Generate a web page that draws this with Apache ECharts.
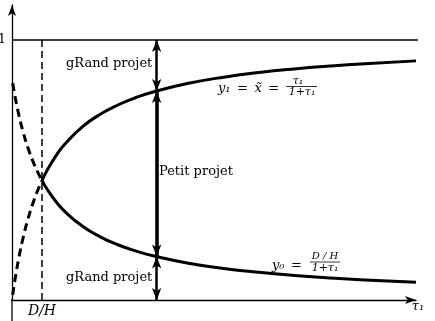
<!DOCTYPE html>
<html>
<head>
<meta charset="utf-8">
<script src="https://cdn.jsdelivr.net/npm/echarts@6/dist/echarts.min.js"></script>
<style>
  html, body { margin: 0; padding: 0; background: #fff; }
  #chart { width: 435px; height: 321px; }
</style>
</head>
<body>
<div id="chart"></div>
<script>
// Threshold D/H on the τ1 axis
const dOverH = 0.85;

// Right branch (τ1 ≥ D/H): solid curves
const tauRight = [0.85, 1, 1.25, 1.5, 2, 2.5, 3, 3.5, 4, 5, 6, 7, 8, 9, 10, 11.45];
const y1Right  = [0.4595, 0.5, 0.5556, 0.6, 0.6667, 0.7143, 0.75, 0.7778, 0.8, 0.8333, 0.8571, 0.875, 0.8889, 0.9, 0.9091, 0.9197];
const y0Right  = [0.4595, 0.425, 0.3778, 0.34, 0.2833, 0.2429, 0.2125, 0.1889, 0.17, 0.1417, 0.1214, 0.1063, 0.0944, 0.085, 0.0773, 0.0683];

// Left branch (τ1 < D/H): dashed curves
const tauLeft = [0.02, 0.1, 0.2, 0.3, 0.45, 0.6, 0.75, 0.85];
const y1Left  = [0.0196, 0.0909, 0.1667, 0.2308, 0.3103, 0.375, 0.4286, 0.4595];
const y0Left  = [0.8333, 0.7727, 0.7083, 0.6538, 0.5862, 0.5313, 0.4857, 0.4595];

// Upper bound level and the double arrows at one τ1
const upperLevel = 1;
const arrowTau = 4.1;
const arrowY1 = 0.804;
const arrowY0 = 0.167;

// Tick labels
const yTickValues = [1];
const yTickLabels = ['1'];
const xTickValues = [dOverH];
const xTickLabels = ['D/H'];

// Axis extents (axes cross slightly past the origin)
const xMin = 0, xMax = 11.45, xOvershoot = -0.34;
const yMin = 0, yMax = 1.1346, yOvershoot = -0.0808;

const pairs = (xs, ys) => xs.map((x, i) => [x, ys[i]]);

const serif = '"DejaVu Serif", "Liberation Serif", serif';
const mathFont = '"DejaVu Serif", "Liberation Serif", serif';

const chart = echarts.init(document.getElementById('chart'));

const arrowStyle = (w) => ({ color: '#000', width: w, type: 'solid' });
const thinLine = { color: '#000', width: 1.3 };

chart.setOption({
  animation: false,
  backgroundColor: '#fff',
  grid: { left: 12, right: 19, top: 5, bottom: 21, containLabel: false, outerBoundsMode: 'none' },
  xAxis: {
    type: 'value',
    min: xMin,
    max: xMax,
    name: 'τ₁',
    nameLocation: 'end',
    nameGap: 2,
    nameTextStyle: { fontFamily: mathFont, fontStyle: 'italic', fontSize: 13, color: '#000', align: 'center', verticalAlign: 'top' },
    axisLine: { onZero: false, lineStyle: thinLine, symbol: ['none', 'arrow'], symbolSize: [6, 11] },
    axisTick: { show: false },
    splitLine: { show: false },
    axisLabel: {
      customValues: xTickValues,
      formatter: (v) => xTickLabels[xTickValues.indexOf(v)] || '',
      fontFamily: mathFont, fontStyle: 'italic', fontSize: 14, color: '#000', margin: 4
    }
  },
  yAxis: {
    type: 'value',
    min: yMin,
    max: yMax,
    axisLine: { onZero: false, lineStyle: thinLine, symbol: ['none', 'arrow'], symbolSize: [6, 11] },
    axisTick: { show: false },
    splitLine: { show: false },
    axisLabel: {
      customValues: yTickValues,
      formatter: (v) => yTickLabels[yTickValues.indexOf(v)] || '',
      fontFamily: serif, fontSize: 13, color: '#000', margin: 6
    }
  },
  series: [
    {
      name: 'x axis tail', type: 'line', clip: false, symbol: 'none', silent: true,
      data: [[xOvershoot, 0], [0, 0]], lineStyle: thinLine
    },
    {
      name: 'y axis tail', type: 'line', clip: false, symbol: 'none', silent: true,
      data: [[0, yOvershoot], [0, 0]], lineStyle: thinLine
    },
    {
      name: 'upper', type: 'line', clip: false, symbol: 'none', silent: true,
      data: [[0, upperLevel], [12, upperLevel]],
      lineStyle: { color: '#000', width: 1.5 }
    },
    {
      name: 'guide', type: 'line', symbol: 'none', silent: true,
      data: [[dOverH, 0], [dOverH, upperLevel]],
      lineStyle: { color: '#000', width: 1.5, type: [7, 4] }
    },
    {
      name: 'y1', type: 'line', smooth: true, symbol: 'none', silent: true,
      data: pairs(tauRight, y1Right),
      lineStyle: { color: '#000', width: 3 }
    },
    {
      name: 'y0', type: 'line', smooth: true, symbol: 'none', silent: true,
      data: pairs(tauRight, y0Right),
      lineStyle: { color: '#000', width: 3 }
    },
    {
      name: 'y1 dashed', type: 'line', smooth: true, symbol: 'none', silent: true,
      data: pairs(tauLeft, y1Left),
      lineStyle: { color: '#000', width: 3, type: [8, 5] }
    },
    {
      name: 'y0 dashed', type: 'line', smooth: true, symbol: 'none', silent: true,
      data: pairs(tauLeft, y0Left),
      lineStyle: { color: '#000', width: 3, type: [8, 5] }
    },
    {
      name: 'arrows', type: 'line', data: [], symbol: 'none', silent: true,
      markLine: {
        silent: true,
        symbol: ['arrow', 'arrow'],
        symbolSize: [7, 12],
        label: { show: false },
        emphasis: { disabled: true },
        data: [
          [{ coord: [arrowTau, upperLevel], lineStyle: arrowStyle(2.5) }, { coord: [arrowTau, arrowY1] }],
          [{ coord: [arrowTau, arrowY1], lineStyle: arrowStyle(3.6) }, { coord: [arrowTau, arrowY0] }],
          [{ coord: [arrowTau, arrowY0], lineStyle: arrowStyle(2.5) }, { coord: [arrowTau, 0] }]
        ]
      }
    }
  ],
  graphic: [
    { type: 'text', left: 66, top: 57, style: { text: 'gRand projet', font: '13px ' + serif, fill: '#000' } },
    { type: 'text', left: 159, top: 165, style: { text: 'Petit projet', font: '13px ' + serif, fill: '#000' } },
    { type: 'text', left: 66, top: 271, style: { text: 'gRand projet', font: '13px ' + serif, fill: '#000' } },

    // y1 = x~ = τ1 / (1+τ1)
    { type: 'text', x: 218, y: 89, style: { text: 'y₁\u2002=\u2002x̃\u2002=', align: 'left', verticalAlign: 'middle', fill: '#000', font: 'italic 13px ' + mathFont } },
    { type: 'text', x: 298, y: 81, style: { text: 'τ₁', align: 'center', verticalAlign: 'middle', fill: '#000', font: 'italic 11px ' + mathFont } },
    { type: 'line', shape: { x1: 286, y1: 86.5, x2: 317, y2: 86.5 }, style: { stroke: '#000', lineWidth: 0.8 } },
    { type: 'text', x: 302, y: 92.5, style: { text: '1+τ₁', align: 'center', verticalAlign: 'middle', fill: '#000', font: 'italic 11px ' + mathFont } },

    // y0 = (D/H) / (1+τ1)
    { type: 'text', x: 272, y: 266, style: { text: 'y₀\u2002=', align: 'left', verticalAlign: 'middle', fill: '#000', font: 'italic 13px ' + mathFont } },
    { type: 'text', x: 325, y: 256, style: { text: 'D / H', align: 'center', verticalAlign: 'middle', fill: '#000', font: 'italic 10px ' + mathFont } },
    { type: 'line', shape: { x1: 310, y1: 262, x2: 340, y2: 262 }, style: { stroke: '#000', lineWidth: 0.8 } },
    { type: 'text', x: 325, y: 268.5, style: { text: '1+τ₁', align: 'center', verticalAlign: 'middle', fill: '#000', font: 'italic 11px ' + mathFont } }
  ]
});
</script>
</body>
</html>
